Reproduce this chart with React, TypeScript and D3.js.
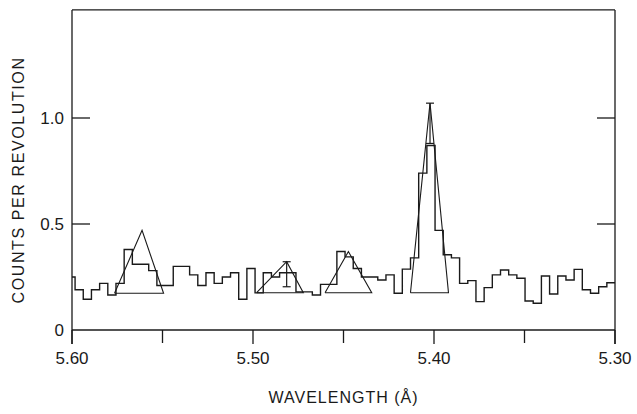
import React from "react";
import * as d3 from "d3";

// histogram bins, left (5.60 A) to right (5.30 A); first bin is clipped by the axis
const binFirstEdge = 5.5983;
const binWidth = 0.00452;
const counts = [
  0.25, 0.19, 0.145, 0.19, 0.22, 0.165, 0.22, 0.38, 0.31, 0.31, 0.28, 0.21,
  0.21, 0.3, 0.3, 0.26, 0.21, 0.27, 0.22, 0.25, 0.27, 0.145, 0.29, 0.175,
  0.27, 0.25, 0.27, 0.27, 0.18, 0.18, 0.165, 0.215, 0.215, 0.37, 0.345, 0.29,
  0.25, 0.25, 0.236, 0.26, 0.173, 0.287, 0.34, 0.74, 0.87, 0.47, 0.355, 0.34,
  0.22, 0.233, 0.134, 0.2, 0.26, 0.283, 0.26, 0.244, 0.137, 0.126, 0.255,
  0.17, 0.255, 0.236, 0.286, 0.19, 0.173, 0.204, 0.223,
];

// fitted line profiles drawn as triangles
const fitLeft = [5.5765, 5.498, 5.4602, 5.413];
const fitApex = [5.5613, 5.4814, 5.4473, 5.4022];
const fitRight = [5.5494, 5.4722, 5.4344, 5.392];
const fitBase = [0.173, 0.176, 0.176, 0.176];
const fitTop = [0.47, 0.322, 0.37, 1.07];

// error bars
const errWave = [5.4814, 5.4022];
const errLow = [0.204, 0.88];
const errHigh = [0.322, 1.07];

const xMajor = [5.6, 5.5, 5.4, 5.3];
const xMinor = [5.55, 5.45, 5.35];
const yTicks = [0, 0.5, 1.0];
const yLabels = ["0", "0.5", "1.0"];

const W = 637;
const H = 414;
const ink = "#1a1a1a";
const font = "'Liberation Sans', Arial, sans-serif";

export default function App() {
  const x = d3.scaleLinear().domain([5.6, 5.3]).range([72, 615]);
  const y = d3.scaleLinear().domain([0, 1]).range([330, 118]);
  const yTop = y(1.51);

  const edges = counts.map((_, i) => (i === 0 ? 5.6 : binFirstEdge - (i - 1) * binWidth));
  edges.push(5.3);
  const steps: [number, number][] = [];
  counts.forEach((c, i) => {
    steps.push([edges[i], c]);
    steps.push([edges[i + 1], c]);
  });
  const histPath = d3
    .line<[number, number]>()
    .x((d) => x(d[0]))
    .y((d) => y(d[1]))(steps);

  const tri = d3
    .line<[number, number]>()
    .x((d) => x(d[0]))
    .y((d) => y(d[1]));

  return (
    <svg
      width={W}
      height={H}
      style={{ position: "absolute", left: 0, top: 0, background: "#fff" }}
    >
      <g fill="none" stroke={ink} strokeWidth={1.3}>
        {/* frame */}
        <line x1={x(5.6)} x2={x(5.6)} y1={yTop} y2={y(0) + 14} />
        <line x1={x(5.3)} x2={x(5.3)} y1={yTop} y2={y(0) + 14} />
        <line x1={x(5.6)} x2={x(5.3)} y1={yTop} y2={yTop} />
        <line x1={x(5.6)} x2={x(5.3)} y1={y(0)} y2={y(0)} />
        {xMajor.map((t) => (
          <line key={"M" + t} x1={x(t)} x2={x(t)} y1={y(0)} y2={y(0) + 14} />
        ))}
        {xMinor.map((t) => (
          <line key={"m" + t} x1={x(t)} x2={x(t)} y1={y(0)} y2={y(0) + 13} />
        ))}
        {yTicks.slice(1).map((t) => (
          <g key={"y" + t}>
            <line x1={x(5.6)} x2={x(5.6) + 18} y1={y(t)} y2={y(t)} />
            <line x1={x(5.3)} x2={x(5.3) - 18} y1={y(t)} y2={y(t)} />
          </g>
        ))}
        <path d={histPath || ""} strokeWidth={1.4} />
        {fitApex.map((a, i) => (
          <path
            key={"t" + i}
            d={
              tri([
                [fitLeft[i], fitBase[i]],
                [a, fitTop[i]],
                [fitRight[i], fitBase[i]],
                [fitLeft[i], fitBase[i]],
              ]) || ""
            }
            strokeWidth={1.1}
          />
        ))}
        {errWave.map((w, i) => (
          <g key={"e" + i} strokeWidth={1.2}>
            <line x1={x(w)} x2={x(w)} y1={y(errLow[i])} y2={y(errHigh[i])} />
            <line x1={x(w) - 4} x2={x(w) + 4} y1={y(errLow[i])} y2={y(errLow[i])} />
            <line x1={x(w) - 4} x2={x(w) + 4} y1={y(errHigh[i])} y2={y(errHigh[i])} />
          </g>
        ))}
      </g>
      <g fill={ink} fontFamily={font} fontSize={17}>
        {xMajor.map((t) => (
          <text key={"xl" + t} x={x(t)} y={y(0) + 34} textAnchor="middle">
            {t.toFixed(2)}
          </text>
        ))}
        {yTicks.map((t, i) => (
          <text key={"yl" + t} x={x(5.6) - 8} y={y(t) + 6} textAnchor="end">
            {yLabels[i]}
          </text>
        ))}
        <text x={(x(5.6) + x(5.3)) / 2} y={y(0) + 73} textAnchor="middle" fontSize={16} letterSpacing={1}>
          WAVELENGTH (Å)
        </text>
        <text
          transform={`translate(24,${(y(0) + yTop) / 2 + 10}) rotate(-90)`}
          textAnchor="middle"
          fontSize={16}
          letterSpacing={1.6}
        >
          COUNTS PER REVOLUTION
        </text>
      </g>
    </svg>
  );
}
